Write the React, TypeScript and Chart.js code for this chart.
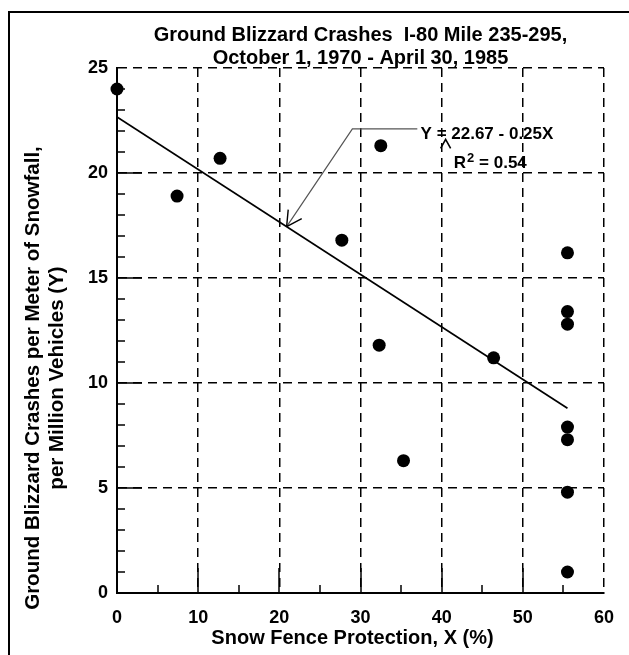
import React, { useEffect, useRef } from "react";
import { Chart, registerables } from "chart.js";
Chart.register(...registerables);

// ---- data ----
const protectionPct = [0, 7.4, 12.7, 27.7, 32.5, 32.3, 35.3, 46.4, 55.5, 55.5, 55.5, 55.5, 55.5, 55.5, 55.5];
const crashRate = [24.0, 18.9, 20.7, 16.8, 21.3, 11.8, 6.3, 11.2, 16.2, 13.4, 12.8, 7.9, 7.3, 4.8, 1.0];
const fitX = [0, 55.5];
const fitY = [22.67, 8.8];
const leaderX = [20.9, 29.0, 37.0];
const leaderY = [17.45, 22.1, 22.1];
const equationAnchor = [37.4, 21.6];
const r2Anchor = [41.5, 20.25];
const titleLines = ["Ground Blizzard Crashes  I-80 Mile 235-295,", "October 1, 1970 - April 30, 1985"];
const yTitleLines = ["Ground Blizzard Crashes per Meter of Snowfall,", "per Million Vehicles (Y)"];
const xTitle = "Snow Fence Protection, X (%)";
const equationText = "Y = 22.67 - 0.25X";
const r2Parts = ["R", "2", " = 0.54"];

const FONT = "'Liberation Sans', Arial, Helvetica, sans-serif";

const decor = {
  id: "decor",
  beforeDraw(chart: any) {
    const { ctx, width, height } = chart;
    ctx.save();
    ctx.fillStyle = "#fff";
    ctx.fillRect(0, 0, width, height);
    ctx.strokeStyle = "#000";
    ctx.lineWidth = 2;
    ctx.beginPath();
    ctx.moveTo(9, height);
    ctx.lineTo(9, 12);
    ctx.lineTo(width, 12);
    ctx.stroke();
    ctx.restore();
  },
  afterDraw(chart: any) {
    const { ctx, chartArea: a, scales } = chart;
    const xs = scales.x, ys = scales.y;
    ctx.save();
    ctx.strokeStyle = "#000";
    ctx.lineWidth = 1.5;
    // inside ticks
    for (let v = 5; v < 60; v += 5) {
      const px = Math.round(xs.getPixelForValue(v));
      const len = v % 10 === 0 ? 25 : 8;
      ctx.beginPath();
      ctx.moveTo(px, a.bottom);
      ctx.lineTo(px, a.bottom - len);
      ctx.stroke();
    }
    for (let v = 1; v < 25; v += 1) {
      const py = Math.round(ys.getPixelForValue(v));
      const len = v % 5 === 0 ? 25 : 8;
      ctx.beginPath();
      ctx.moveTo(a.left, py);
      ctx.lineTo(a.left + len, py);
      ctx.stroke();
    }
    ctx.fillStyle = "#000";
    // title
    ctx.font = `bold 20px ${FONT}`;
    ctx.textAlign = "center";
    ctx.textBaseline = "alphabetic";
    const cx = (a.left + a.right) / 2;
    ctx.fillText(titleLines[0], cx, 41);
    ctx.fillText(titleLines[1], cx, 64);
    // x title
    ctx.fillText(xTitle, cx - 8, 644);
    // y title
    ctx.save();
    ctx.translate(0, 378);
    ctx.rotate(-Math.PI / 2);
    ctx.textBaseline = "middle";
    ctx.font = `bold 20.5px ${FONT}`;
    ctx.fillText(yTitleLines[0], 0, 33);
    ctx.fillText(yTitleLines[1], 0, 57);
    ctx.restore();
    // equation
    ctx.textAlign = "left";
    ctx.textBaseline = "alphabetic";
    ctx.font = `bold 17px ${FONT}`;
    const ex = xs.getPixelForValue(equationAnchor[0]);
    const ey = ys.getPixelForValue(equationAnchor[1]);
    ctx.fillText(equationText, ex, ey);
    const rx = xs.getPixelForValue(r2Anchor[0]);
    const ry = ys.getPixelForValue(r2Anchor[1]);
    ctx.fillText(r2Parts[0], rx, ry);
    const w0 = ctx.measureText(r2Parts[0]).width;
    ctx.font = `bold 13px ${FONT}`;
    ctx.fillText(r2Parts[1], rx + w0 + 1, ry - 6);
    const w1 = ctx.measureText(r2Parts[1]).width;
    ctx.font = `bold 17px ${FONT}`;
    ctx.fillText(r2Parts[2], rx + w0 + w1 + 1, ry);
    // hat
    const hx = ex + ctx.measureText("Y ").width + 9;
    ctx.lineWidth = 1.6;
    ctx.beginPath();
    ctx.moveTo(hx - 5, ey + 9);
    ctx.lineTo(hx, ey);
    ctx.lineTo(hx + 5, ey + 9);
    ctx.stroke();
    // arrowhead
    const tx = xs.getPixelForValue(leaderX[0]);
    const ty = ys.getPixelForValue(leaderY[0]);
    const bx = xs.getPixelForValue(leaderX[1]);
    const by = ys.getPixelForValue(leaderY[1]);
    const ang = Math.atan2(by - ty, bx - tx);
    ctx.lineWidth = 1.4;
    ctx.beginPath();
    for (const d of [-0.5, 0.5]) {
      ctx.moveTo(tx, ty);
      ctx.lineTo(tx + 17 * Math.cos(ang + d), ty + 17 * Math.sin(ang + d));
    }
    ctx.stroke();
    ctx.restore();
  },
};

export default function App() {
  const ref = useRef<HTMLCanvasElement>(null);
  useEffect(() => {
    if (!ref.current) return;
    const tickFont = { family: FONT, size: 18, weight: "bold" as const };
    const chart = new Chart(ref.current, {
      type: "scatter",
      data: {
        datasets: [
          {
            label: "fit",
            data: fitX.map((x, i) => ({ x, y: fitY[i] })),
            showLine: true,
            borderColor: "#000",
            borderWidth: 1.7,
            pointRadius: 0,
          },
          {
            label: "leader",
            data: leaderX.map((x, i) => ({ x, y: leaderY[i] })),
            showLine: true,
            borderColor: "#555",
            borderWidth: 1.2,
            pointRadius: 0,
          },
          {
            label: "crashes",
            data: protectionPct.map((x, i) => ({ x, y: crashRate[i] })),
            pointRadius: 6.5,
            pointBackgroundColor: "#000",
            pointBorderWidth: 0,
            clip: false,
          } as any,
        ],
      },
      options: {
        responsive: false,
        animation: false,
        devicePixelRatio: 1,
        layout: { padding: { top: 68, right: 25, left: 0, bottom: 0 } },
        plugins: { legend: { display: false }, tooltip: { enabled: false }, title: { display: false } },
        scales: {
          x: {
            type: "linear",
            min: 0,
            max: 60,
            ticks: { stepSize: 10, font: tickFont, color: "#000", padding: 14 },
            grid: { color: "#000", lineWidth: 1.5, drawTicks: false },
            border: { display: true, color: "#000", width: 2, dash: [9, 6] },
            afterFit: (s: any) => { s.height = 62; },
          },
          y: {
            type: "linear",
            min: 0,
            max: 25,
            ticks: { stepSize: 5, font: tickFont, color: "#000", padding: 9 },
            grid: { color: "#000", lineWidth: 1.5, drawTicks: false },
            border: { display: true, color: "#000", width: 2, dash: [9, 6] },
            afterFit: (s: any) => { s.width = 117; },
          },
        },
      },
      plugins: [decor],
    });
    return () => chart.destroy();
  }, []);
  return (
    <div style={{ position: "absolute", left: 0, top: 0, width: 629, height: 655 }}>
      <canvas ref={ref} width={629} height={655} style={{ display: "block" }} />
    </div>
  );
}
